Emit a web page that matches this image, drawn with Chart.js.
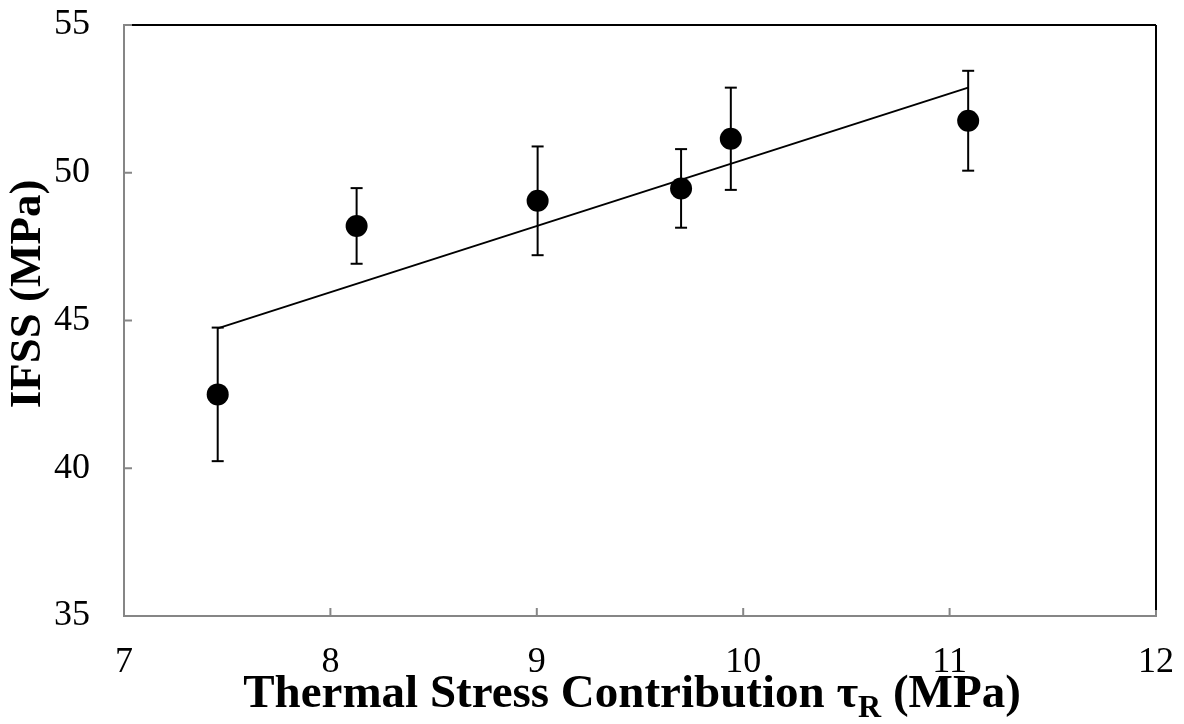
<!DOCTYPE html>
<html>
<head>
<meta charset="utf-8">
<script src="https://cdn.jsdelivr.net/npm/chart.js@4"></script>
<style>
  html, body { margin: 0; padding: 0; background: #fff; }
  #wrap { width: 1184px; height: 724px; }
</style>
</head>
<body>
<div id="wrap"><canvas id="myChart"></canvas></div>
<script>
// values
const tauR = [7.454, 8.127, 9.004, 9.699, 9.940, 11.090];
const ifss = [42.50, 48.20, 49.05, 49.47, 51.15, 51.76];
const ifssErr = [2.26, 1.28, 1.84, 1.33, 1.73, 1.69];
const xTicks = [7, 8, 9, 10, 11, 12];
const yTicks = [35, 40, 45, 50, 55];

const SERIF = '"Liberation Serif", "Times New Roman", serif';
const AXIS_GREY = '#868686';

// least squares trendline, like the spreadsheet one
function linearFit(xs, ys) {
  const n = xs.length;
  const mx = xs.reduce((a, b) => a + b, 0) / n;
  const my = ys.reduce((a, b) => a + b, 0) / n;
  let sxy = 0, sxx = 0;
  for (let i = 0; i < n; i++) {
    sxy += (xs[i] - mx) * (ys[i] - my);
    sxx += (xs[i] - mx) * (xs[i] - mx);
  }
  const slope = sxy / sxx;
  return { slope: slope, intercept: my - slope * mx };
}

const fit = linearFit(tauR, ifss);
const xLo = Math.min(...tauR);
const xHi = Math.max(...tauR);
const trendPoints = [xLo, xHi].map(v => ({ x: v, y: fit.intercept + fit.slope * v }));
const points = tauR.map((v, i) => ({ x: v, y: ifss[i] }));

function line(ctx, x1, y1, x2, y2) {
  ctx.beginPath();
  ctx.moveTo(x1, y1);
  ctx.lineTo(x2, y2);
  ctx.stroke();
}

// keep the plot box where the reference has it
function noLabelPadding(s) {
  s.paddingTop = 0;
  s.paddingBottom = 0;
  s.paddingLeft = 0;
  s.paddingRight = 0;
}

const frameAndErrors = {
  id: 'frameAndErrors',
  beforeDatasetsDraw(chart) {
    const { ctx, chartArea: a, scales: { x, y } } = chart;
    ctx.save();
    ctx.lineWidth = 2;

    // small inside tick marks
    ctx.strokeStyle = AXIS_GREY;
    yTicks.forEach(v => {
      const py = y.getPixelForValue(v);
      line(ctx, a.left, py, a.left + 8, py);
    });
    xTicks.forEach(v => {
      const px = x.getPixelForValue(v);
      line(ctx, px, a.bottom, px, a.bottom - 8);
    });

    // top and right edges of the box are black
    ctx.strokeStyle = '#000';
    line(ctx, a.left + 8, a.top, a.right, a.top);
    line(ctx, a.right, a.top, a.right, a.bottom - 6);

    // error bars
    tauR.forEach((v, i) => {
      const px = x.getPixelForValue(v);
      const top = y.getPixelForValue(ifss[i] + ifssErr[i]);
      const bot = y.getPixelForValue(ifss[i] - ifssErr[i]);
      line(ctx, px, top, px, bot);
      line(ctx, px - 6, top, px + 6, top);
      line(ctx, px - 6, bot, px + 6, bot);
    });
    ctx.restore();
  },
  afterDraw(chart) {
    const { ctx } = chart;
    ctx.save();
    ctx.fillStyle = '#000';

    // y axis title
    ctx.font = 'bold 45px ' + SERIF;
    ctx.textAlign = 'center';
    ctx.textBaseline = 'middle';
    ctx.translate(28, 294);
    ctx.rotate(-Math.PI / 2);
    ctx.fillText('IFSS (MPa)', 0, 0);
    ctx.setTransform(1, 0, 0, 1, 0, 0);

    // x axis title with subscript R
    const big = 'bold 47px ' + SERIF;
    const small = 'bold 32px ' + SERIF;
    const part1 = 'Thermal Stress Contribution \u03C4';
    const sub = 'R';
    const part3 = ' (MPa)';
    ctx.textBaseline = 'alphabetic';
    ctx.textAlign = 'left';
    ctx.font = big;
    const w1 = ctx.measureText(part1).width;
    const w3 = ctx.measureText(part3).width;
    ctx.font = small;
    const w2 = ctx.measureText(sub).width;
    let px = 632 - (w1 + w2 + w3) / 2;
    const base = 707;
    ctx.font = big;
    ctx.fillText(part1, px, base);
    px += w1;
    ctx.font = small;
    ctx.fillText(sub, px, base + 10);
    px += w2;
    ctx.font = big;
    ctx.fillText(part3, px, base);
    ctx.restore();
  }
};

const ctx = document.getElementById('myChart').getContext('2d');

new Chart(ctx, {
  type: 'scatter',
  data: {
    datasets: [{
      label: 'IFSS',
      data: points,
      backgroundColor: '#000',
      borderColor: '#000',
      borderWidth: 0,
      pointRadius: 11,
      pointHoverRadius: 11,
      order: 1
    }, {
      label: 'Linear fit',
      data: trendPoints,
      showLine: true,
      borderColor: '#000',
      borderWidth: 2,
      pointRadius: 0,
      fill: false,
      order: 2
    }]
  },
  options: {
    responsive: true,
    maintainAspectRatio: false,
    animation: false,
    layout: { autoPadding: false, padding: { top: 25, right: 28, left: 0, bottom: 0 } },
    plugins: {
      legend: { display: false },
      tooltip: { enabled: false }
    },
    scales: {
      x: {
        type: 'linear',
        min: 7,
        max: 12,
        afterBuildTicks: s => { s.ticks = xTicks.map(v => ({ value: v })); },
        ticks: {
          font: { family: SERIF, size: 36 },
          color: '#000',
          padding: 17,
          maxRotation: 0
        },
        grid: { display: false },
        border: { display: true, color: AXIS_GREY, width: 2 },
        title: { display: false },
        afterFit: s => { s.height = 108; noLabelPadding(s); }
      },
      y: {
        type: 'linear',
        min: 35,
        max: 55,
        afterBuildTicks: s => { s.ticks = yTicks.map(v => ({ value: v })); },
        ticks: {
          font: { family: SERIF, size: 36 },
          color: '#000',
          padding: 26
        },
        grid: { display: false },
        border: { display: true, color: AXIS_GREY, width: 2 },
        title: { display: false },
        afterFit: s => { s.width = 124; noLabelPadding(s); }
      }
    }
  },
  plugins: [frameAndErrors]
});
</script>
</body>
</html>
